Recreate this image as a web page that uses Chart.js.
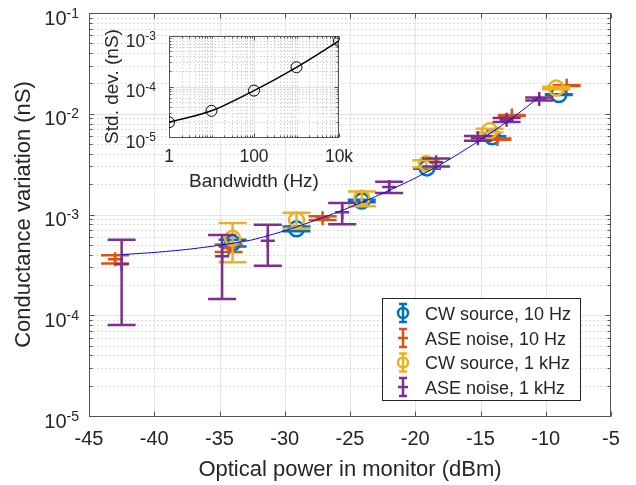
<!DOCTYPE html>
<html>
<head>
<meta charset="utf-8">
<script src="https://cdn.jsdelivr.net/npm/chart.js@4.4.1/dist/chart.umd.min.js"></script>
<style>
body { margin: 0; background: #fff; }
#wrap { position: relative; width: 636px; height: 485px; }
#wrap canvas { position: absolute; left: 0; top: 0; }
</style>
</head>
<body>
<div id="wrap">
  <canvas id="main" width="636" height="485"></canvas>
  <canvas id="inset" width="636" height="485"></canvas>
</div>
<script>
// ---- main plot data ----
const xTicks = [-45, -40, -35, -30, -25, -20, -15, -10, -5];
const xTickLabels = ['-45', '-40', '-35', '-30', '-25', '-20', '-15', '-10', '-5'];
const yDecades = [1e-5, 1e-4, 1e-3, 1e-2, 1e-1];
const yExps = ['-5', '-4', '-3', '-2', '-1'];

const legendLabels = ['CW source, 10 Hz', 'ASE noise, 10 Hz', 'CW source, 1 kHz', 'ASE noise, 1 kHz'];
const seriesColors = ['#0072BD', '#D95319', '#EDB120', '#7E2F8E'];

const cw10X = [-34.0, -29.1, -24.1, -19.1, -14.1, -9.0];
const cw10Y = [5.2e-4, 7.2e-4, 1.36e-3, 2.9e-3, 5.9e-3, 1.55e-2];
const cw10Err = [4e-5, 4e-5, 4e-5, 5e-5, 8e-5, 1.5e-4];

const ase10X = [-43.0, -34.3, -27.1, -13.7, -12.6, -8.4];
const ase10Y = [3.6e-4, 4.65e-4, 9.2e-4, 5.6e-3, 9.6e-3, 1.9e-2];
const ase10Err = [3.3e-5, 4e-5, 4e-5, 8e-5, 1e-4, 1.5e-4];

const cw1kX = [-34.0, -29.1, -24.1, -19.15, -14.3, -9.2];
const cw1kY = [5.8e-4, 8.8e-4, 1.45e-3, 3.2e-3, 6.8e-3, 1.8e-2];
const cw1kErr = [2.45e-4, 1.6e-4, 2.4e-4, 2.5e-4, 3e-4, 5e-4];

const ase1kX = [-42.5, -34.8, -31.3, -25.6, -22.0, -18.4, -15.2, -13.0, -10.5];
const ase1kY = [3.2e-4, 3.85e-4, 5.5e-4, 1.05e-3, 1.87e-3, 3.3e-3, 5.7e-3, 8.7e-3, 1.4e-2];
const ase1kErr = [2.4e-4, 2.4e-4, 2.4e-4, 2.5e-4, 2.4e-4, 3e-4, 3e-4, 4e-4, 5e-4];

// blue trend line
const fitX = [-42.5, -40, -37.5, -35, -32.5, -30, -27.5, -25, -22.5, -20, -17.5, -15, -12.5, -10.4];
const fitY = [4.0e-4, 4.2e-4, 4.5e-4, 4.95e-4, 5.6e-4, 6.9e-4, 8.9e-4, 1.18e-3, 1.62e-3, 2.3e-3, 3.45e-3, 5.5e-3, 9.2e-3, 1.5e-2];

// ---- inset data ----
const bwX = [1, 10, 100, 1000, 10000];
const bwY = [1.95e-5, 3.3e-5, 8.3e-5, 2.4e-4, 8.0e-4];
const bwTicks = [1, 100, 10000];
const bwTickLabels = ['1', '100', '10k'];
const sdDecades = [1e-5, 1e-4, 1e-3];
const sdExps = ['-5', '-4', '-3'];

const seriesX = [cw10X, ase10X, cw1kX, ase1kX];
const seriesY = [cw10Y, ase10Y, cw1kY, ase1kY];
const seriesErr = [cw10Err, ase10Err, cw1kErr, ase1kErr];
const seriesMarks = ['circle', 'cross', 'circle', 'cross'];

const FONT = '"Liberation Sans", Arial, Helvetica, sans-serif';
const TXT = '#262626';
const AXC = '#555555';
const CAP = 14;

function pts(xs, ys) {
  return xs.map((v, i) => ({x: v, y: ys[i]}));
}
function cr(v) { return Math.round(v) + 0.5; }
function hline(ctx, x1, x2, y) { ctx.beginPath(); ctx.moveTo(x1, y); ctx.lineTo(x2, y); ctx.stroke(); }
function vline(ctx, x, y1, y2) { ctx.beginPath(); ctx.moveTo(x, y1); ctx.lineTo(x, y2); ctx.stroke(); }

// "10" with a raised exponent, right aligned at rx
function powLabel(ctx, exp, rx, ty, big, small, dyBase, dyExp) {
  ctx.font = small + 'px ' + FONT;
  const ew = ctx.measureText(exp).width;
  ctx.textAlign = 'right';
  ctx.textBaseline = 'alphabetic';
  ctx.fillText(exp, rx, ty + dyExp);
  ctx.font = big + 'px ' + FONT;
  ctx.fillText('10', rx - ew, ty + dyBase);
}

function minorVals(decades) {
  const out = [];
  for (let i = 0; i < decades.length - 1; i++) {
    for (let m = 2; m <= 9; m++) out.push(decades[i] * m);
  }
  return out;
}

const mainDeco = {
  id: 'mainDeco',
  beforeDatasetsDraw(chart) {
    const {ctx, chartArea: a} = chart;
    const x = chart.scales.x, y = chart.scales.y;
    const minors = minorVals(yDecades);
    ctx.save();
    ctx.lineWidth = 1;
    // minor dotted grid
    ctx.strokeStyle = '#cfcfcf';
    ctx.setLineDash([1.5, 2.5]);
    minors.forEach(v => hline(ctx, a.left, a.right, cr(y.getPixelForValue(v))));
    ctx.setLineDash([]);
    // major grid
    ctx.strokeStyle = '#e4e4e4';
    xTicks.slice(1, -1).forEach(v => vline(ctx, cr(x.getPixelForValue(v)), a.top, a.bottom));
    yDecades.slice(1, -1).forEach(v => hline(ctx, a.left, a.right, cr(y.getPixelForValue(v))));
    // box and ticks
    ctx.strokeStyle = AXC;
    const L = cr(a.left), R = cr(a.right - 1), T = cr(a.top), B = cr(a.bottom);
    ctx.strokeRect(L, T, R - L, B - T);
    xTicks.forEach(v => {
      const px = cr(x.getPixelForValue(v));
      vline(ctx, px, B, B - 5);
      vline(ctx, px, T, T + 5);
    });
    yDecades.forEach(v => {
      const py = cr(y.getPixelForValue(v));
      hline(ctx, L, L + 5, py);
      hline(ctx, R, R - 5, py);
    });
    minors.forEach(v => {
      const py = cr(y.getPixelForValue(v));
      hline(ctx, L, L + 3, py);
      hline(ctx, R, R - 3, py);
    });
    ctx.restore();
  },
  beforeDatasetDraw(chart, args) {
    const i = args.index;
    if (i > 3) return;
    const {ctx, chartArea: a} = chart;
    const x = chart.scales.x, y = chart.scales.y;
    ctx.save();
    ctx.beginPath();
    ctx.rect(a.left, a.top, a.right - a.left, a.bottom - a.top);
    ctx.clip();
    ctx.strokeStyle = seriesColors[i];
    ctx.lineWidth = 2.5;
    seriesX[i].forEach((xv, j) => {
      const px = x.getPixelForValue(xv);
      const top = y.getPixelForValue(seriesY[i][j] + seriesErr[i][j]);
      const lo = seriesY[i][j] - seriesErr[i][j];
      const bot = lo > 0 ? y.getPixelForValue(lo) : a.bottom;
      ctx.beginPath();
      ctx.moveTo(px, top); ctx.lineTo(px, bot);
      ctx.moveTo(px - CAP, top); ctx.lineTo(px + CAP, top);
      ctx.moveTo(px - CAP, bot); ctx.lineTo(px + CAP, bot);
      ctx.stroke();
    });
    ctx.restore();
  },
  afterDraw(chart) {
    const {ctx, chartArea: a} = chart;
    const x = chart.scales.x, y = chart.scales.y;
    ctx.save();
    ctx.fillStyle = TXT;
    // x tick labels
    ctx.font = '20px ' + FONT;
    ctx.textAlign = 'center';
    ctx.textBaseline = 'alphabetic';
    xTicks.forEach((v, i) => ctx.fillText(xTickLabels[i], x.getPixelForValue(v), 445));
    // y tick labels
    yDecades.forEach((v, i) => powLabel(ctx, yExps[i], 79, y.getPixelForValue(v), 20, 14, 11.5, 4.5));
    // axis titles
    ctx.font = '22px ' + FONT;
    ctx.textAlign = 'center';
    ctx.fillText('Optical power in monitor (dBm)', (a.left + a.right) / 2, 476);
    ctx.save();
    ctx.translate(30, (a.top + a.bottom) / 2);
    ctx.rotate(-Math.PI / 2);
    ctx.fillText('Conductance variation (nS)', 0, 0);
    ctx.restore();

    // legend
    const bx = 382, by = 298, bw = 198, bh = 102;
    ctx.fillStyle = '#fff';
    ctx.fillRect(bx, by, bw, bh);
    ctx.strokeStyle = '#262626';
    ctx.lineWidth = 1;
    ctx.strokeRect(bx + 0.5, by + 0.5, bw, bh);
    const rowY = [313, 338, 362.5, 387];
    legendLabels.forEach((lab, i) => {
      const cx = 403, cy = rowY[i];
      ctx.strokeStyle = seriesColors[i];
      ctx.lineWidth = 2.5;
      ctx.beginPath();
      ctx.moveTo(cx, cy - 9); ctx.lineTo(cx, cy + 9);
      ctx.moveTo(cx - 4, cy - 9); ctx.lineTo(cx + 4, cy - 9);
      ctx.moveTo(cx - 4, cy + 9); ctx.lineTo(cx + 4, cy + 9);
      ctx.stroke();
      ctx.beginPath();
      if (seriesMarks[i] === 'circle') {
        ctx.arc(cx, cy, 5, 0, Math.PI * 2);
      } else {
        ctx.moveTo(cx - 5, cy); ctx.lineTo(cx + 5, cy);
      }
      ctx.stroke();
      ctx.fillStyle = TXT;
      ctx.font = '18px ' + FONT;
      ctx.textAlign = 'left';
      ctx.fillText(lab, 425, cy + 6.5);
    });
    ctx.restore();
  }
};

const mainSets = seriesX.map((xs, i) => ({
  label: legendLabels[i],
  data: pts(xs, seriesY[i]),
  pointStyle: seriesMarks[i],
  pointRadius: seriesMarks[i] === 'circle' ? 7.5 : 7,
  pointBorderWidth: 2.5,
  pointBorderColor: seriesColors[i],
  pointBackgroundColor: 'rgba(0,0,0,0)',
  borderColor: seriesColors[i],
  order: 5 - i
}));
mainSets.push({
  type: 'line',
  label: 'trend',
  data: pts(fitX, fitY),
  borderColor: '#0000ff',
  borderWidth: 1,
  pointRadius: 0,
  tension: 0.2,
  order: 1
});

new Chart(document.getElementById('main'), {
  type: 'scatter',
  data: {datasets: mainSets},
  options: {
    responsive: false,
    animation: false,
    devicePixelRatio: 1,
    events: [],
    layout: {padding: {left: 0, top: 13, right: 25, bottom: 0}},
    plugins: {legend: {display: false}, tooltip: {enabled: false}},
    scales: {
      x: {
        type: 'linear', min: -45, max: -5,
        ticks: {display: false, stepSize: 5},
        grid: {display: false}, border: {display: false},
        afterFit: s => { s.height = 69; }
      },
      y: {
        type: 'logarithmic', min: 1e-5, max: 1e-1,
        ticks: {display: false},
        grid: {display: false}, border: {display: false},
        afterFit: s => { s.width = 89; }
      }
    }
  },
  plugins: [mainDeco]
});

// ---- inset ----
const insetDeco = {
  id: 'insetDeco',
  beforeDraw(chart) {
    const {ctx, chartArea: a} = chart;
    ctx.save();
    ctx.fillStyle = '#fff';
    ctx.fillRect(a.left, a.top, a.right - a.left, a.bottom - a.top);
    ctx.restore();
  },
  beforeDatasetsDraw(chart) {
    const {ctx, chartArea: a} = chart;
    const x = chart.scales.x, y = chart.scales.y;
    const xMinor = [];
    for (let k = 0; k < 4; k++) {
      for (let m = 1; m <= 9; m++) {
        const v = m * Math.pow(10, k);
        if (bwTicks.indexOf(v) < 0) xMinor.push(v);
      }
    }
    const yMinor = minorVals(sdDecades);
    ctx.save();
    ctx.lineWidth = 1;
    ctx.strokeStyle = '#cfcfcf';
    ctx.setLineDash([1.5, 2]);
    xMinor.forEach(v => vline(ctx, cr(x.getPixelForValue(v)), a.top, a.bottom));
    yMinor.forEach(v => hline(ctx, a.left, a.right, cr(y.getPixelForValue(v))));
    ctx.setLineDash([]);
    ctx.strokeStyle = '#e2e2e2';
    bwTicks.slice(1, -1).forEach(v => vline(ctx, cr(x.getPixelForValue(v)), a.top, a.bottom));
    sdDecades.slice(1, -1).forEach(v => hline(ctx, a.left, a.right, cr(y.getPixelForValue(v))));
    ctx.strokeStyle = AXC;
    const L = cr(a.left), R = cr(a.right - 1), T = cr(a.top), B = cr(a.bottom);
    ctx.strokeRect(L, T, R - L, B - T);
    bwTicks.forEach(v => {
      const px = cr(x.getPixelForValue(v));
      vline(ctx, px, B, B - 4); vline(ctx, px, T, T + 4);
    });
    xMinor.forEach(v => {
      const px = cr(x.getPixelForValue(v));
      vline(ctx, px, B, B - 2); vline(ctx, px, T, T + 2);
    });
    sdDecades.forEach(v => {
      const py = cr(y.getPixelForValue(v));
      hline(ctx, L, L + 4, py); hline(ctx, R, R - 4, py);
    });
    yMinor.forEach(v => {
      const py = cr(y.getPixelForValue(v));
      hline(ctx, L, L + 2, py); hline(ctx, R, R - 2, py);
    });
    ctx.restore();
  },
  afterDraw(chart) {
    const {ctx, chartArea: a} = chart;
    const x = chart.scales.x, y = chart.scales.y;
    ctx.save();
    ctx.fillStyle = TXT;
    ctx.font = '17.5px ' + FONT;
    ctx.textAlign = 'center';
    ctx.textBaseline = 'alphabetic';
    bwTicks.forEach((v, i) => ctx.fillText(bwTickLabels[i], x.getPixelForValue(v), 162));
    sdDecades.forEach((v, i) => powLabel(ctx, sdExps[i], 156, y.getPixelForValue(v), 17.5, 12, 10.5, 4));
    ctx.font = '19px ' + FONT;
    ctx.textAlign = 'center';
    ctx.fillText('Bandwidth (Hz)', (a.left + a.right) / 2, 187);
    ctx.save();
    ctx.translate(118, (a.top + a.bottom) / 2);
    ctx.rotate(-Math.PI / 2);
    ctx.fillText('Std. dev. (nS)', 0, 0);
    ctx.restore();
    ctx.restore();
  }
};

new Chart(document.getElementById('inset'), {
  type: 'scatter',
  data: {
    datasets: [{
      type: 'line',
      label: 'Std. dev.',
      data: pts(bwX, bwY),
      borderColor: '#000',
      borderWidth: 1.5,
      pointStyle: 'circle',
      pointRadius: 5.5,
      pointBorderWidth: 1,
      pointBorderColor: '#000',
      pointBackgroundColor: 'rgba(0,0,0,0)',
      cubicInterpolationMode: 'monotone'
    }]
  },
  options: {
    responsive: false,
    animation: false,
    devicePixelRatio: 1,
    events: [],
    layout: {padding: {left: 0, top: 36, right: 297, bottom: 0}},
    plugins: {legend: {display: false}, tooltip: {enabled: false}},
    scales: {
      x: {
        type: 'logarithmic', min: 1, max: 10000,
        ticks: {display: false},
        grid: {display: false}, border: {display: false},
        afterFit: s => { s.height = 348; }
      },
      y: {
        type: 'logarithmic', min: 1e-5, max: 1e-3,
        ticks: {display: false},
        grid: {display: false}, border: {display: false},
        afterFit: s => { s.width = 169; }
      }
    }
  },
  plugins: [insetDeco]
});
</script>
</body>
</html>
